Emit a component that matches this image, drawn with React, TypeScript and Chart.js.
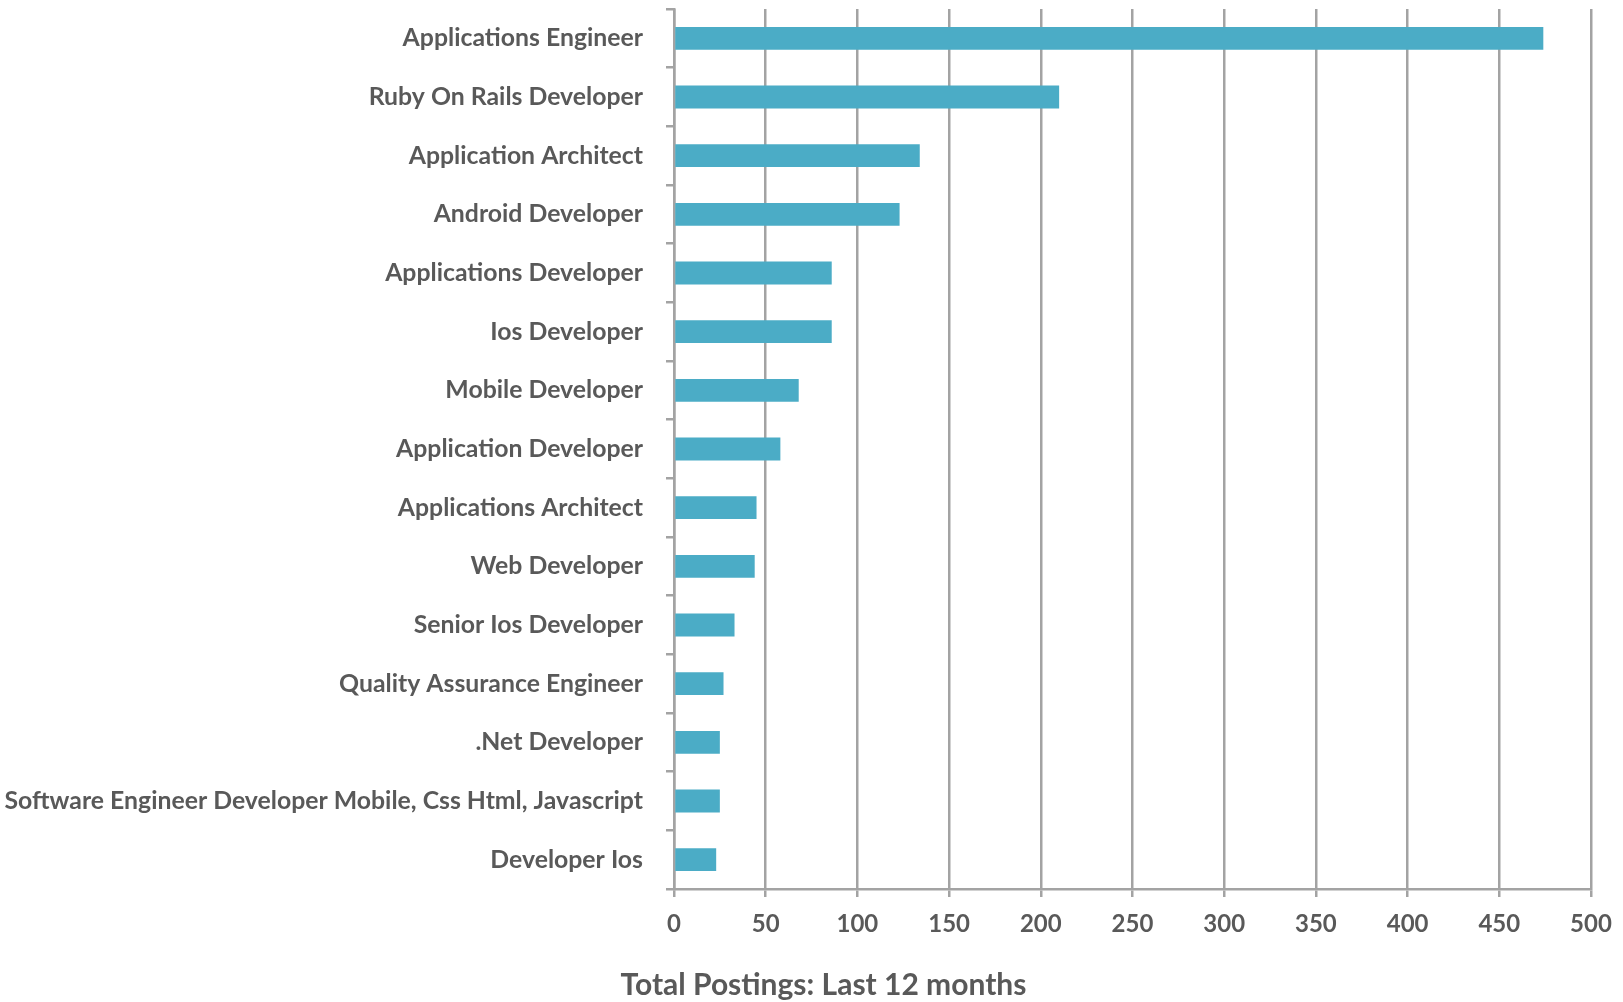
import React, { useEffect, useRef } from "react";
import { Chart, registerables } from "chart.js";

Chart.register(...registerables);

const categories: string[] = [
  "Applications Engineer",
  "Ruby On Rails Developer",
  "Application Architect",
  "Android Developer",
  "Applications Developer",
  "Ios Developer",
  "Mobile Developer",
  "Application Developer",
  "Applications Architect",
  "Web Developer",
  "Senior Ios Developer",
  "Quality Assurance Engineer",
  ".Net Developer",
  "Software Engineer Developer Mobile, Css Html, Javascript",
  "Developer Ios",
];

const postings: number[] = [474, 210, 134, 123, 86, 86, 68, 58, 45, 44, 33, 27, 25, 25, 23];

const xTicks: number[] = [0, 50, 100, 150, 200, 250, 300, 350, 400, 450, 500];

const axisTitle = "Total Postings: Last 12 months";

const TEXT = "#595959";
const GRID = "#a3a3a3";
const BAR = "#4BACC6";
const FONT = "Lato, 'Open Sans', sans-serif";

const shiftTitle = {
  id: "shiftTitle",
  afterLayout(chart: any) {
    const tb = chart.titleBlock;
    if (tb) {
      tb.left = tb.left + 56;
    }
  },
};

export default function App() {
  const ref = useRef<HTMLCanvasElement | null>(null);

  useEffect(() => {
    if (!ref.current) return;
    const chart = new Chart(ref.current, {
      type: "bar",
      data: {
        labels: categories,
        datasets: [
          {
            data: postings,
            backgroundColor: BAR,
            borderWidth: 0,
            barPercentage: 0.39,
            categoryPercentage: 1,
          },
        ],
      },
      options: {
        indexAxis: "y",
        animation: false,
        responsive: false,
        maintainAspectRatio: false,
        layout: { padding: { top: 9, right: 32, left: 0, bottom: 0 } },
        plugins: {
          legend: { display: false },
          tooltip: { enabled: false },
          title: {
            display: true,
            position: "bottom",
            text: axisTitle,
            color: TEXT,
            font: { family: FONT, size: 30, weight: "bold", lineHeight: 1.1 },
            padding: { top: 0, bottom: 0 },
          },
        },
        scales: {
          x: {
            min: 0,
            max: 500,
            afterBuildTicks: (scale: any) => {
              scale.ticks = xTicks.map((v) => ({ value: v }));
            },
            afterFit: (scale: any) => {
              scale.height = 80;
              scale.paddingLeft = 0;
              scale.paddingRight = 0;
            },
            grid: {
              color: GRID,
              lineWidth: 2.5,
              tickLength: 8,
              drawOnChartArea: true,
            },
            border: { color: GRID, width: 2.5 },
            ticks: {
              color: TEXT,
              padding: 13,
              font: { family: FONT, size: 24, weight: "bold" },
            },
          },
          y: {
            afterFit: (scale: any) => {
              scale.width = 674;
              scale.paddingTop = 0;
              scale.paddingBottom = 0;
            },
            grid: {
              offset: true,
              color: GRID,
              lineWidth: 2.5,
              tickLength: 8,
              drawOnChartArea: false,
            },
            border: { color: GRID, width: 2.5 },
            ticks: {
              color: TEXT,
              padding: 23,
              autoSkip: false,
              font: { family: FONT, size: 24.8, weight: "bold" },
            },
          },
        },
      },
      plugins: [shiftTitle],
    });
    return () => chart.destroy();
  }, []);

  return (
    <div style={{ position: "fixed", left: 0, top: 0, width: 1623, height: 1002, background: "#fff" }}>
      <canvas ref={ref} width={1623} height={1002} style={{ width: 1623, height: 1002, display: "block" }} />
    </div>
  );
}
